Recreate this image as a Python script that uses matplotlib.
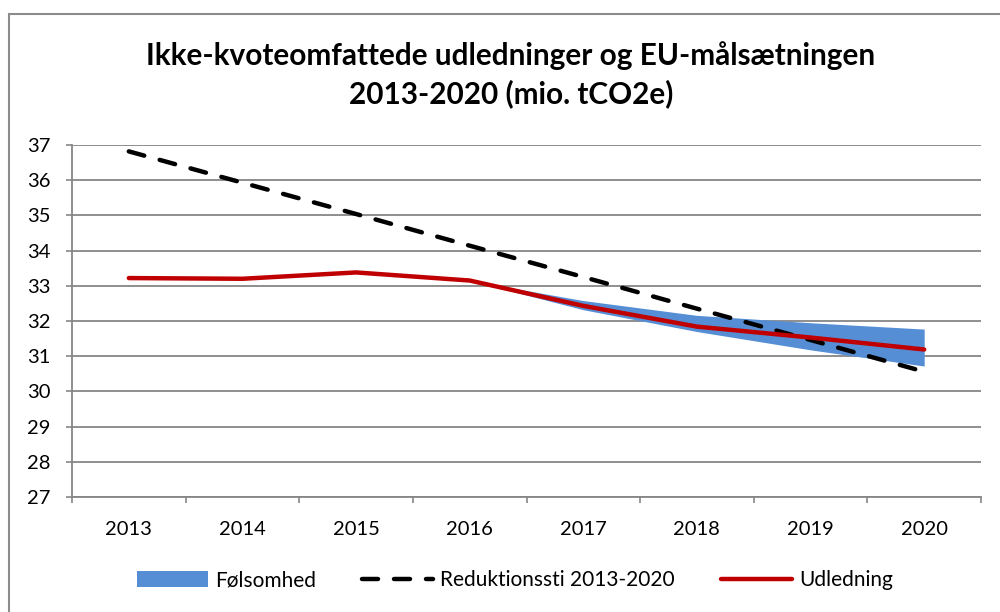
import matplotlib
matplotlib.use("Agg")
import matplotlib.pyplot as plt
from matplotlib.patches import Rectangle, Patch
from matplotlib.lines import Line2D

plt.rcParams['font.family'] = ['Lato', 'DejaVu Sans']

years = ["2013", "2014", "2015", "2016", "2017", "2018", "2019", "2020"]
reduktionssti = [36.82, 35.93, 35.04, 34.14, 33.25, 32.35, 31.46, 30.56]
udledning = [33.22, 33.20, 33.38, 33.15, 32.43, 31.84, 31.53, 31.19]
band_years = ["2016", "2017", "2018", "2019", "2020"]
band_low = [33.15, 32.32, 31.70, 31.18, 30.72]
band_high = [33.15, 32.58, 32.16, 31.95, 31.77]

title = "Ikke-kvoteomfattede udledninger og EU-målsætningen\n2013-2020 (mio. tCO2e)"
yticks = [27, 28, 29, 30, 31, 32, 33, 34, 35, 36, 37]

fig = plt.figure(figsize=(10, 6.12), dpi=100)
ax = fig.add_axes([0.072, 0.188, 0.909, 0.575])

x = list(range(len(years)))
bx = [years.index(y) for y in band_years]

grid_c = "#868686"
ax.fill_between(bx, band_low, band_high, color="#558ED5", linewidth=0, zorder=2)
ax.plot(x, reduktionssti, color="black", lw=3.2, dashes=(3.6, 3.6),
        dash_capstyle="round", solid_capstyle="round", zorder=3)
ax.plot(x, udledning, color="#C00000", lw=3.2, solid_capstyle="round", zorder=4)

ax.set_xlim(-0.5, 7.5)
ax.set_ylim(27, 37)
ax.set_yticks(yticks)
ax.set_yticklabels([str(v) for v in yticks])
ax.set_xticks(x)
ax.set_xticklabels(years)
ax.set_xticks([i - 0.5 for i in range(len(years) + 1)], minor=True)
ax.tick_params(axis='x', which='major', length=0, pad=17, labelsize=14.5)
ax.tick_params(axis='x', which='minor', length=4.5, color=grid_c, width=1.2, direction='out')
ax.tick_params(axis='y', length=4.5, color=grid_c, width=1.2, direction='out', pad=11, labelsize=14.5)
ax.yaxis.grid(True, color=grid_c, lw=1.3, zorder=0)
ax.set_axisbelow(True)
for s in ["top", "right"]:
    ax.spines[s].set_visible(False)
for s in ["left", "bottom"]:
    ax.spines[s].set_color(grid_c)
    ax.spines[s].set_linewidth(1.3)

fig.text(0.511, 0.878, title, ha="center", va="center", fontsize=21.4,
         fontweight="bold", linespacing=1.38)

handles = [Patch(facecolor="#558ED5", edgecolor="none"),
           Line2D([], [], color="black", lw=3.2, dashes=(3.6, 3.6), dash_capstyle="round"),
           Line2D([], [], color="#C00000", lw=3.2, solid_capstyle="round")]
labels = ["Følsomhed", "Reduktionssti 2013-2020", "Udledning"]
fig.legend(handles, labels, loc="center", bbox_to_anchor=(0.515, 0.052), ncol=3,
           frameon=False, fontsize=15, handlelength=3.4, handleheight=0.75,
           columnspacing=2.2, handletextpad=0.35)

fig.patches.append(Rectangle((9 / 1000, -0.1), 1.2, 1 - 14 / 612 + 0.1,
                             transform=fig.transFigure, fill=False,
                             edgecolor="#8C8C8C", lw=1.5))

fig.savefig("out.png", dpi=100, facecolor="white")
